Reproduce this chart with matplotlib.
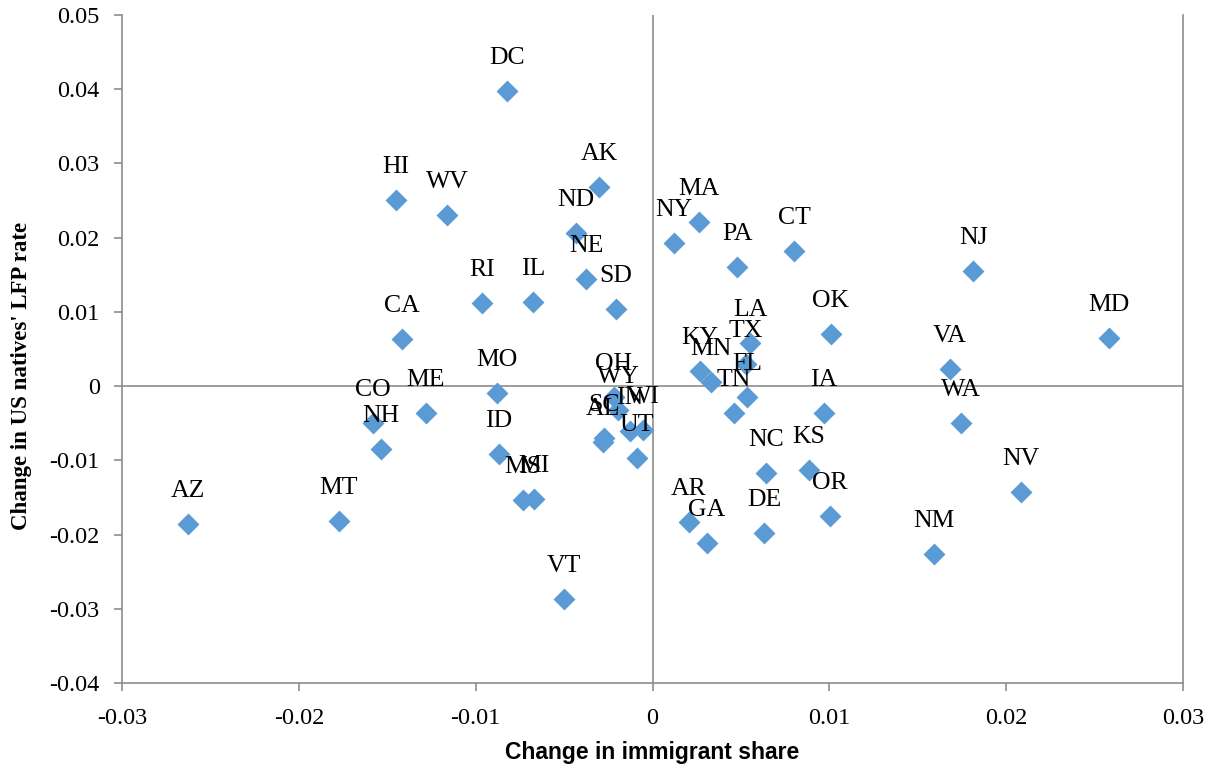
import numpy as np
import matplotlib
matplotlib.use("Agg")
import matplotlib.pyplot as plt

# ─── Data ────────────────────────────────────────────────────────────────────
states = ["DC", "HI", "WV", "AK", "ND", "NE", "SD", "RI", "IL", "CA",
          "MA", "NY", "PA", "CT", "OK", "LA", "TX", "KY", "MN", "FL",
          "TN", "NJ", "MD", "VA", "IA", "WA", "NV", "NM", "OR", "KS",
          "NC", "DE", "AR", "GA", "AZ", "MT", "NH", "CO", "ME", "MO",
          "ID", "MS", "MI", "VT", "OH", "WY", "SC", "AL", "IN", "WI", "UT"]

imm_share = [-0.00823, -0.01451, -0.01162, -0.00303, -0.00433, -0.00376,
             -0.00206, -0.00964, -0.00676, -0.01417, 0.00263, 0.00122,
             0.00478, 0.00800, 0.01009, 0.00551, 0.00529, 0.00269,
             0.00331, 0.00534, 0.00461, 0.01813, 0.02582, 0.01682,
             0.00970, 0.01745, 0.02084, 0.01592, 0.01004, 0.00885,
             0.00642, 0.00631, 0.00206, 0.00308, -0.02627, -0.01773,
             -0.01535, -0.01581, -0.01281, -0.00879, -0.00868, -0.00732,
             -0.00670, -0.00501, -0.00218, -0.00195, -0.00274, -0.00280,
             -0.00127, -0.00054, -0.00088]

lfp_change = [0.03981, 0.02513, 0.02311, 0.02688, 0.02068, 0.01448,
              0.01044, 0.01125, 0.01139, 0.00640, 0.02216, 0.01933,
              0.01610, 0.01826, 0.00707, 0.00586, 0.00303, 0.00209,
              0.00061, -0.00141, -0.00357, 0.01556, 0.00653, 0.00236,
              -0.00357, -0.00492, -0.01421, -0.02257, -0.01745, -0.01125,
              -0.01165, -0.01974, -0.01826, -0.02109, -0.01853, -0.01812,
              -0.00842, -0.00492, -0.00357, -0.00088, -0.00909, -0.01529,
              -0.01516, -0.02863, -0.00141, -0.00317, -0.00694, -0.00748,
              -0.00600, -0.00586, -0.00963]

x_ticks = [-0.03, -0.02, -0.01, 0, 0.01, 0.02, 0.03]
x_tick_labels = ["-0.03", "-0.02", "-0.01", "0", "0.01", "0.02", "0.03"]
y_ticks = [0.05, 0.04, 0.03, 0.02, 0.01, 0, -0.01, -0.02, -0.03, -0.04]
y_tick_labels = ["0.05", "0.04", "0.03", "0.02", "0.01", "0",
                 "-0.01", "-0.02", "-0.03", "-0.04"]

# ─── Style ───────────────────────────────────────────────────────────────────
serif = ["Liberation Serif", "DejaVu Serif"]
axis_grey = "#8c8c8c"
marker_blue = "#5b9bd5"

fig = plt.figure(figsize=(12.12, 7.7), dpi=100)
ax = fig.add_axes([0.1007, 0.113, 0.8754, 0.8675])

ax.scatter(imm_share, lfp_change, marker="D", s=125, color=marker_blue,
           linewidths=0, zorder=3)

for name, xv, yv in zip(states, imm_share, lfp_change):
    ax.annotate(name, (xv, yv), xytext=(0, 27), textcoords="offset pixels",
                ha="center", va="baseline", fontsize=18.5, family=serif,
                color="black", zorder=4)

# zero lines (Excel-style axes crossing)
ax.axhline(0, color=axis_grey, lw=1.2, zorder=1)
ax.axvline(0, color=axis_grey, lw=1.2, zorder=1)

ax.set_xlim(-0.03, 0.03)
ax.set_ylim(-0.04, 0.05)
ax.set_xticks(x_ticks)
ax.set_xticklabels(x_tick_labels, family=serif, fontsize=17.5)
ax.set_yticks(y_ticks)
ax.set_yticklabels(y_tick_labels, family=serif, fontsize=17.5)
ax.tick_params(axis="both", direction="out", length=6, width=1.2,
               color=axis_grey)
ax.tick_params(axis="x", pad=12)
ax.tick_params(axis="y", pad=10)

ax.spines["top"].set_visible(False)
for side in ["left", "bottom", "right"]:
    ax.spines[side].set_color(axis_grey)
    ax.spines[side].set_linewidth(1.2)

ax.set_xlabel("Change in immigrant share", fontsize=16.5, fontweight="bold",
              family=["Liberation Sans Narrow", "Liberation Sans", "DejaVu Sans"])
ax.xaxis.set_label_coords(0.5, -0.087)
ax.set_ylabel("Change in US natives' LFP rate", fontsize=16.5, fontweight="bold",
              family=serif)
ax.yaxis.set_label_coords(-0.085, 0.46)

fig.savefig("out.png", dpi=100)
